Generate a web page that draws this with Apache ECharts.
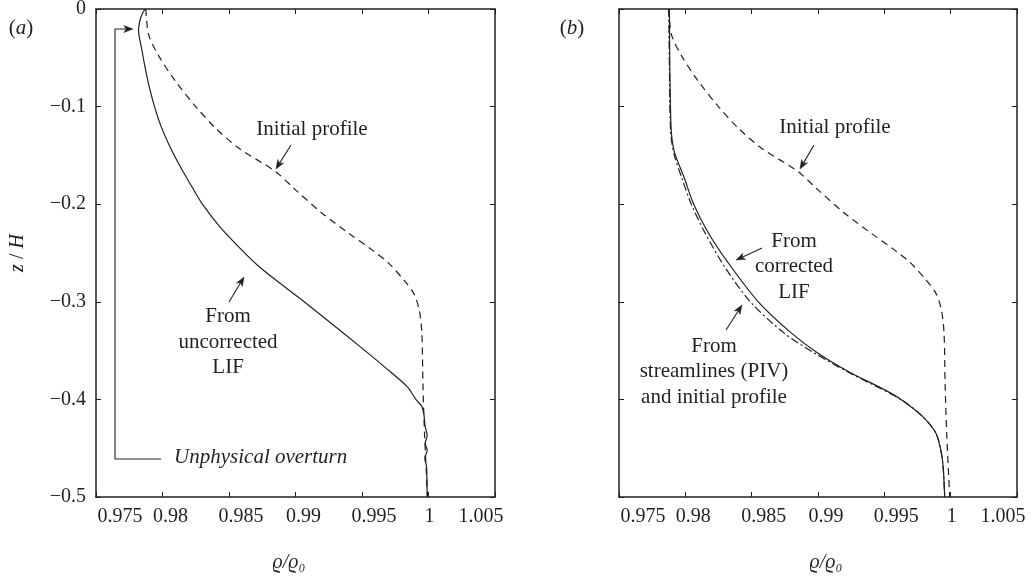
<!DOCTYPE html>
<html>
<head>
<meta charset="utf-8">
<script src="https://cdn.jsdelivr.net/npm/echarts@6/dist/echarts.min.js"></script>
<style>
  html, body { margin: 0; padding: 0; background: #fff; }
  #chart { width: 1032px; height: 577px; }
</style>
</head>
<body>
<div id="chart"></div>
<script>
// Density ratio (rho/rho0) versus depth z/H; points are [rho/rho0, z/H]
const xTickLabels = ['0.975', '0.98', '0.985', '0.99', '0.995', '1', '1.005'];
const zTickLabels = ['\u22120.5', '\u22120.4', '\u22120.3', '\u22120.2', '\u22120.1', '0'];

// Initial stratification (same in both panels)
const initialProfile = [
  [0.97875, 0], [0.9788, -0.0113], [0.979, -0.0283], [0.97975, -0.0488],
  [0.981, -0.0744], [0.9825, -0.1], [0.984, -0.1222], [0.98575, -0.1427],
  [0.9885, -0.1666], [0.99, -0.1853], [0.992, -0.2092], [0.994, -0.2297],
  [0.99575, -0.2468], [0.997, -0.2604], [0.99813, -0.2775], [0.99888, -0.2911],
  [0.9993, -0.3082], [0.9995, -0.3321], [0.99958, -0.3833], [0.9997, -0.4345],
  [0.99993, -0.5]
];

// Panel (a): profile from uncorrected LIF (with the overturn near the top)
const uncorrectedLIF = [
  [0.9787, 0], [0.9785, -0.0044], [0.97832, -0.011], [0.9782, -0.0215],
  [0.97845, -0.042], [0.97868, -0.059], [0.979, -0.0795], [0.9794, -0.1],
  [0.9799, -0.1205], [0.98055, -0.141], [0.98133, -0.1614], [0.9822, -0.1819],
  [0.983, -0.2], [0.9843, -0.2229], [0.98595, -0.2468], [0.98725, -0.2638],
  [0.98915, -0.2843], [0.99065, -0.3], [0.99235, -0.3184], [0.99483, -0.3457],
  [0.99665, -0.3662], [0.99838, -0.3867], [0.99905, -0.4], [0.9995, -0.4072],
  [0.99965, -0.415], [0.99975, -0.4277], [0.9999, -0.437], [0.99975, -0.445],
  [0.9999, -0.452], [0.99972, -0.46], [0.99985, -0.4686], [0.99988, -0.48],
  [0.9999, -0.5]
];

// Panel (b): profile from corrected LIF
const correctedLIF = [
  [0.9788, 0], [0.97883, -0.059], [0.97888, -0.1], [0.97895, -0.1273],
  [0.97913, -0.1444], [0.97938, -0.1546], [0.97988, -0.1717], [0.98063, -0.2],
  [0.98175, -0.2297], [0.98325, -0.2604], [0.9855, -0.3], [0.988, -0.3321],
  [0.99, -0.3526], [0.9925, -0.373], [0.995, -0.39], [0.99625, -0.4],
  [0.99788, -0.4174], [0.99888, -0.4345], [0.99925, -0.4515], [0.99943, -0.4686],
  [0.99955, -0.5]
];

// Panel (b): profile from streamlines (PIV) and initial profile
const streamlinePIV = [
  [0.97875, 0], [0.9788, -0.059], [0.9789, -0.1273], [0.9792, -0.1512],
  [0.9797, -0.1717], [0.98045, -0.2], [0.9815, -0.2297], [0.98295, -0.2638],
  [0.9849, -0.3], [0.98745, -0.3321], [0.98975, -0.3526], [0.9924, -0.373],
  [0.99625, -0.4], [0.99788, -0.4174], [0.99888, -0.4345], [0.99925, -0.4515],
  [0.99943, -0.4686], [0.99955, -0.5]
];

const INK = '#231f20';
const SERIF = '"Liberation Serif", "Times New Roman", serif';

const chart = echarts.init(document.getElementById('chart'), null, { renderer: 'canvas' });

// Horizontal nudges of the x tick labels relative to their ticks (px)
const xLabelShift = [24, 8, 12, 8, 12, 1, -14];
const xLabelRich = {};
xLabelShift.forEach((s, i) => {
  xLabelRich['t' + i] = {
    fontFamily: SERIF, fontSize: 20, color: INK,
    padding: s >= 0 ? [0, 0, 0, 2 * s] : [0, -2 * s, 0, 0]
  };
});

function xFmt(v) {
  const i = Math.round((v - 0.975) / 0.005);
  return xTickLabels[i] !== undefined ? '{t' + i + '|' + xTickLabels[i] + '}' : '';
}
function zFmt(v) {
  const i = Math.round((v + 0.5) / 0.1);
  return zTickLabels[i] !== undefined ? zTickLabels[i] : '';
}

const lineStyleAxis = { color: INK, width: 1.5 };
function xAx(grid, pos, withLabels, namePad) {
  return {
    gridIndex: grid, type: 'value', position: pos,
    min: 0.975, max: 1.005, interval: 0.005,
    axisLine: { show: true, onZero: false, lineStyle: lineStyleAxis },
    axisTick: { show: true, inside: true, length: 5, lineStyle: { color: INK, width: 1 } },
    axisLabel: { show: withLabels, formatter: xFmt, rich: xLabelRich, fontFamily: SERIF, fontSize: 20, color: INK, margin: 10 },
    splitLine: { show: false },
    name: withLabels ? '\u03F1/\u03F1\u2080' : '',
    nameLocation: 'middle', nameGap: 56,
    nameTextStyle: { fontFamily: SERIF, fontSize: 20, color: INK, fontStyle: 'italic', padding: namePad || 0 }
  };
}
function yAx(grid, pos, withLabels, withName) {
  return {
    gridIndex: grid, type: 'value', position: pos,
    min: -0.5, max: 0, interval: 0.1,
    axisLine: { show: true, onZero: false, lineStyle: lineStyleAxis },
    axisTick: { show: true, inside: true, length: 5, lineStyle: { color: INK, width: 1 } },
    axisLabel: { show: withLabels, formatter: zFmt, fontFamily: SERIF, fontSize: 20, color: INK, margin: 10 },
    splitLine: { show: false },
    name: withName ? '{i|z} / {i|H}' : '',
    nameLocation: 'middle', nameGap: 68, nameRotate: 90,
    nameTextStyle: {
      fontFamily: SERIF, fontSize: 20, color: INK,
      rich: { i: { fontFamily: SERIF, fontSize: 20, color: INK, fontStyle: 'italic' } }
    }
  };
}

function curve(data, xi, yi, type) {
  return {
    type: 'line', data: data, xAxisIndex: xi, yAxisIndex: yi,
    showSymbol: false, symbol: 'none', silent: true, clip: false,
    smooth: 0.3,
    lineStyle: { color: INK, width: 1.2, type: type },
    z: type === 'solid' ? 5 : 3
  };
}

chart.setOption({
  animation: false,
  backgroundColor: '#fff',
  grid: [
    { left: 96, top: 9, width: 399, height: 488, outerBoundsMode: 'none', containLabel: false },
    { left: 619, top: 9, width: 398, height: 488, outerBoundsMode: 'none', containLabel: false }
  ],
  xAxis: [
    xAx(0, 'bottom', true, [0, 13, 0, 0]), xAx(0, 'top', false),
    xAx(1, 'bottom', true, [0, 0, 0, 16]), xAx(1, 'top', false)
  ],
  yAxis: [yAx(0, 'left', true, true), yAx(0, 'right', false, false), yAx(1, 'left', false, false), yAx(1, 'right', false, false)],
  series: [
    curve(initialProfile, 0, 0, [7, 5]),
    curve(uncorrectedLIF, 0, 0, 'solid'),
    curve(initialProfile, 2, 2, [7, 5]),
    curve(streamlinePIV, 2, 2, [8, 3, 2, 3]),
    curve(correctedLIF, 2, 2, 'solid')
  ]
});

// Annotations placed in data coordinates of each panel
const labelsA = [
  { text: 'Initial profile', at: [0.99124, -0.123], align: 'center' },
  { text: 'From\nuncorrected\nLIF', at: [0.98493, -0.3412], align: 'center' },
  { text: 'Unphysical overturn', at: [0.98087, -0.46], align: 'left', italic: true }
];
const labelsB = [
  { text: 'Initial profile', at: [0.99128, -0.1219], align: 'center' },
  { text: 'From\ncorrected\nLIF', at: [0.98819, -0.2643], align: 'center' },
  { text: 'From\nstreamlines (PIV)\nand initial profile', at: [0.98216, -0.3719], align: 'center' }
];
const arrowsA = [
  { from: [0.98966, -0.1393], to: [0.98853, -0.1639] },
  { from: [0.985, -0.3002], to: [0.98613, -0.2746] }
];
const arrowsB = [
  { from: [0.9897, -0.1393], to: [0.98864, -0.1639] },
  { from: [0.98578, -0.2449], to: [0.98382, -0.2572] },
  { from: [0.98307, -0.3289], to: [0.98427, -0.3033] }
];
// Bracket leading from the overturn label to the top of the curve
const overturnPath = [[0.97989, -0.4611], [0.97643, -0.4611], [0.97643, -0.0205], [0.97778, -0.0205]];

function px(grid, p) { return chart.convertToPixel({ gridIndex: grid }, p); }

const graphics = [];
function addText(grid, l) {
  const p = px(grid, l.at);
  graphics.push({
    type: 'text', silent: true, z: 10,
    style: {
      text: l.text, x: p[0], y: p[1], fill: INK,
      font: (l.italic ? 'italic ' : '') + '21px ' + SERIF,
      align: l.align, verticalAlign: 'middle', lineHeight: 25.5
    }
  });
}
function addHead(tail, tip) {
  const dx = tip[0] - tail[0], dy = tip[1] - tail[1];
  const len = Math.sqrt(dx * dx + dy * dy);
  const ux = dx / len, uy = dy / len;
  const L = 9, W = 3.4;
  const bx = tip[0] - ux * L, by = tip[1] - uy * L;
  const nx = tip[0] - ux * L * 0.75, ny = tip[1] - uy * L * 0.75;
  graphics.push({
    type: 'polygon', silent: true, z: 10,
    shape: { points: [tip, [bx - uy * W, by + ux * W], [nx, ny], [bx + uy * W, by - ux * W]] },
    style: { fill: INK, stroke: INK, lineWidth: 0.5 }
  });
  return [nx, ny];
}
function addArrow(grid, a) {
  const t = px(grid, a.from), h = px(grid, a.to);
  const end = addHead(t, h);
  graphics.push({
    type: 'line', silent: true, z: 10,
    shape: { x1: t[0], y1: t[1], x2: end[0], y2: end[1] },
    style: { stroke: INK, lineWidth: 1.1 }
  });
}

labelsA.forEach(l => addText(0, l));
labelsB.forEach(l => addText(1, l));
arrowsA.forEach(a => addArrow(0, a));
arrowsB.forEach(a => addArrow(1, a));

const bp = overturnPath.map(p => px(0, p));
const lastEnd = addHead(bp[bp.length - 2], bp[bp.length - 1]);
graphics.push({
  type: 'polyline', silent: true, z: 10,
  shape: { points: bp.slice(0, -1).concat([lastEnd]) },
  style: { stroke: INK, lineWidth: 1.1, fill: null }
});

// Panel letters
[['a', 21, 28], ['b', 572, 28]].forEach(([t, x, y]) => {
  graphics.push({
    type: 'text', silent: true,
    style: {
      text: '({i|' + t + '})', x: x, y: y, fill: INK,
      font: '21px ' + SERIF, align: 'center', verticalAlign: 'middle',
      rich: { i: { fontStyle: 'italic', fontSize: 21, fontFamily: SERIF, fill: INK } }
    }
  });
});

chart.setOption({ graphic: graphics });
</script>
</body>
</html>
